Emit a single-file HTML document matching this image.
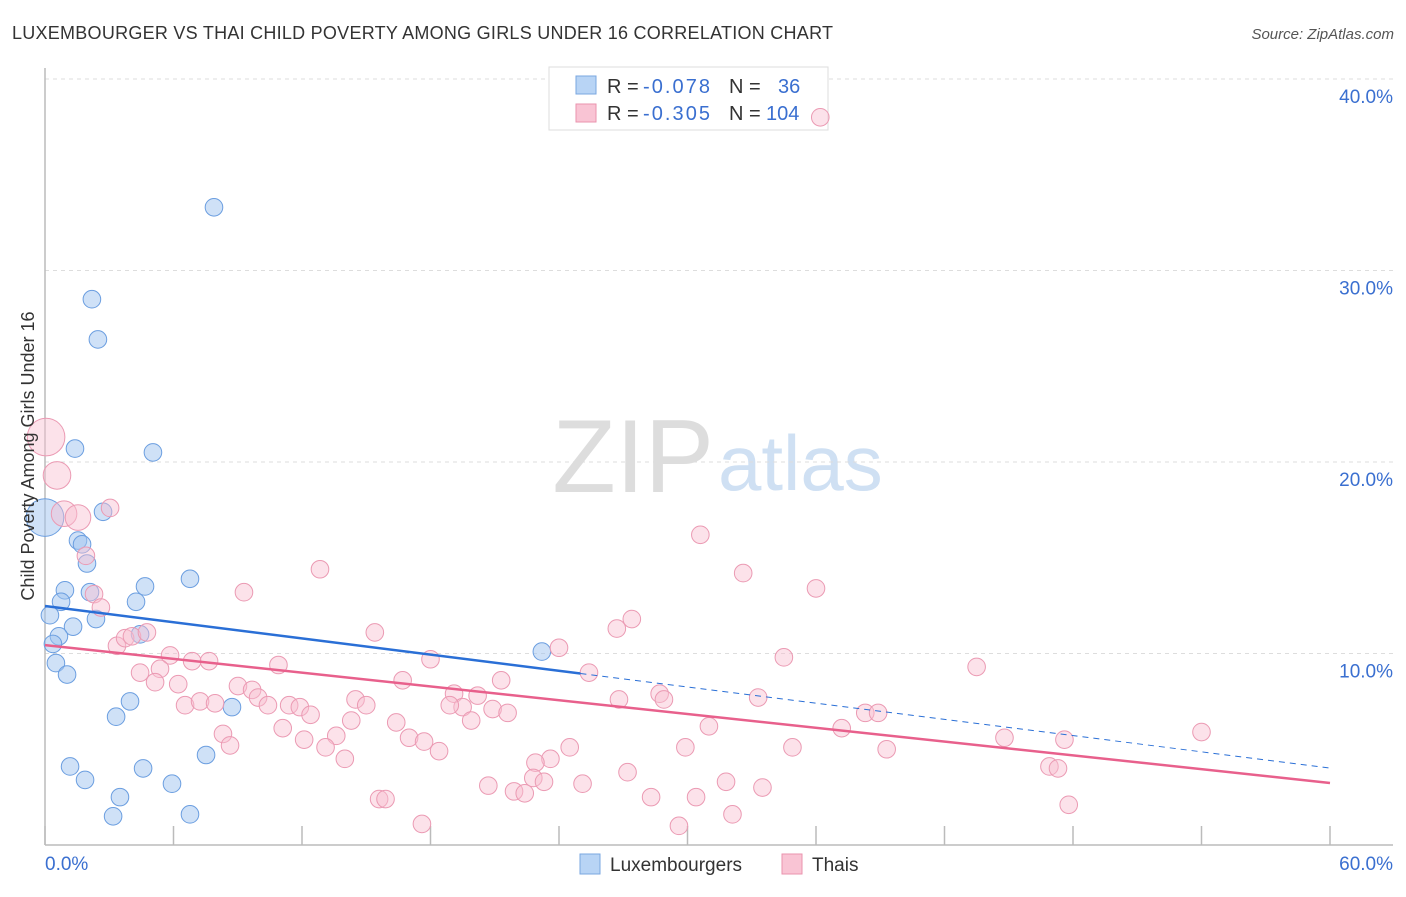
<!DOCTYPE html>
<html><head><meta charset="utf-8"><style>
body{margin:0;background:#fff;font-family:"Liberation Sans",sans-serif;}
svg text{font-family:"Liberation Sans",sans-serif;}
</style></head><body>
<svg id="chart" width="1406" height="892">
<text x="12" y="39" font-size="18" fill="#333" textLength="821">LUXEMBOURGER VS THAI CHILD POVERTY AMONG GIRLS UNDER 16 CORRELATION CHART</text>
<text x="1394" y="39" font-size="15" fill="#555" font-style="italic" text-anchor="end">Source: ZipAtlas.com</text>
<text x="714" y="492" font-size="104" font-family="Liberation Serif" fill="#ddd" text-anchor="end">ZIP</text>
<text x="718" y="490" font-size="78" fill="#cfe0f3">atlas</text>
<g id="grid"></g><g id="axes"></g>
<g>
<rect x="549" y="67" width="279" height="63" fill="#fff" stroke="#ddd"/>
<rect x="576" y="76" width="20" height="18" fill="#b8d4f5" stroke="#7aa7e0"/>
<rect x="576" y="104" width="20" height="18" fill="#f9c4d4" stroke="#ea93ae"/>
<text y="93" font-size="20" fill="#333"><tspan x="607">R =</tspan><tspan x="643" fill="#3a6fd0" textLength="67">-0.078</tspan><tspan x="729">N =</tspan><tspan x="778" fill="#3a6fd0">36</tspan></text>
<text y="120" font-size="20" fill="#333"><tspan x="607">R =</tspan><tspan x="643" fill="#3a6fd0" textLength="67">-0.305</tspan><tspan x="729">N =</tspan><tspan x="766" fill="#3a6fd0">104</tspan></text>
</g>
<g id="pts"></g><g id="lines"></g>
<text transform="translate(34,456) rotate(-90)" font-size="18" fill="#333" text-anchor="middle">Child Poverty Among Girls Under 16</text>
<g>
<rect x="580" y="854" width="20" height="20" fill="#b8d4f5" stroke="#7aa7e0"/>
<text x="610" y="871" font-size="19" fill="#333">Luxembourgers</text>
<rect x="782" y="854" width="20" height="20" fill="#f9c4d4" stroke="#ea93ae"/>
<text x="812" y="871" font-size="19" fill="#333">Thais</text>
</g>
</svg>
<script>
const yTicks=[10,20,30,40];
const xTickLabels=["0.0%","60.0%"];
const luxX=[7.89,2.19,2.47,1.40,5.04,0.0,2.71,1.54,1.73,1.96,6.77,0.93,4.67,2.10,0.75,4.25,2.38,0.23,1.31,0.65,4.44,0.37,0.51,1.03,23.2,3.97,3.32,8.73,7.52,1.17,1.87,4.58,5.93,3.50,3.18,6.77];
const luxY=[33.3,28.5,26.4,20.7,20.5,17.1,17.4,15.9,15.7,14.7,13.9,13.3,13.5,13.2,12.7,12.7,11.8,12.0,11.4,10.9,11.0,10.5,9.5,8.9,10.1,7.5,6.7,7.2,4.7,4.1,3.4,4.0,3.2,2.5,1.5,1.6];
const luxR=[8,8,8,8,8,18,8,8,8,8,8,8,8,8,8,8,8,8,8,8,8,8,8,8,8,8,8,8,8,8,8,8,8,8,8,8];
const thaiX=[36.2,0.05,0.56,0.89,1.54,3.04,1.91,2.29,2.61,12.84,9.29,30.6,32.6,36.0,27.4,26.7,15.4,24.0,3.36,3.74,4.06,4.76,5.84,6.87,7.66,5.37,4.44,5.14,6.22,10.9,18.0,25.4,34.5,43.5,9.01,9.67,9.95,6.54,7.24,7.94,10.41,11.4,11.9,12.4,14.5,15.0,16.7,19.1,20.2,19.5,18.9,21.3,20.9,21.6,19.9,14.3,16.4,26.8,28.7,28.9,33.3,38.3,38.9,31.0,37.2,8.31,8.64,11.1,12.1,13.6,13.1,14.0,17.0,17.7,18.4,24.5,23.6,22.9,29.9,34.9,39.3,44.8,47.6,54.0,46.9,47.3,47.8,27.2,22.8,23.3,20.7,25.1,31.8,21.9,22.4,28.3,30.4,33.5,15.6,15.9,32.1,29.6,17.6];
const thaiY=[38.0,21.3,19.3,17.3,17.1,17.6,15.1,13.1,12.4,14.4,13.2,16.2,14.2,13.4,11.8,11.3,11.1,10.3,10.4,10.8,10.9,11.1,9.9,9.6,9.6,9.2,9.0,8.5,8.4,9.4,9.7,9.0,9.8,9.3,8.3,8.1,7.7,7.3,7.5,7.4,7.3,7.3,7.2,6.8,7.6,7.3,8.6,7.9,7.8,7.2,7.3,8.6,7.1,6.9,6.5,6.5,6.4,7.6,7.9,7.6,7.7,6.9,6.9,6.2,6.1,5.8,5.2,6.1,5.5,5.7,5.1,4.5,5.6,5.4,4.9,5.1,4.5,4.3,5.1,5.1,5.0,5.6,5.5,5.9,4.1,4.0,2.1,3.8,3.5,3.3,3.1,3.2,3.3,2.8,2.7,2.5,2.5,3.0,2.4,2.4,1.6,1.0,1.1];
const thaiR=[8,18,13,12,12,8,8,8,8,8,8,8,8,8,8,8,8,8,8,8,8,8,8,8,8,8,8,8,8,8,8,8,8,8,8,8,8,8,8,8,8,8,8,8,8,8,8,8,8,8,8,8,8,8,8,8,8,8,8,8,8,8,8,8,8,8,8,8,8,8,8,8,8,8,8,8,8,8,8,8,8,8,8,8,8,8,8,8,8,8,8,8,8,8,8,8,8,8,8,8,8,8,8];
const luxFit=[12.48,4.02]; const luxSolidEnd=25;
const thaiFit=[10.44,3.24];
const NS="http://www.w3.org/2000/svg";
const X=v=>45+v/60*1285, Y=v=>845-v*19.15;
function mk(p,t,a){const e=document.createElementNS(NS,t);for(const k in a)e.setAttribute(k,a[k]);p.appendChild(e);return e;}
const grid=document.getElementById('grid'),axes=document.getElementById('axes'),pts=document.getElementById('pts'),lines=document.getElementById('lines');
yTicks.forEach(t=>{
 const l=mk(grid,'line',{x1:45,x2:1393,y1:Y(t),y2:Y(t),stroke:'#ddd','stroke-dasharray':'4,4'});
 
 
 const tx=mk(grid,'text',{x:1393,y:Y(t)+24,'font-size':19,fill:'#3a6fd0','text-anchor':'end'});tx.textContent=t.toFixed(1)+'%';
 
 
});
const ya=mk(axes,'line',{x1:45,x2:45,y1:68,y2:845,stroke:'#bbb','stroke-width':1.5});


const xa=mk(axes,'line',{x1:45,x2:1393,y1:845,y2:845,stroke:'#bbb','stroke-width':1.5});


for(let i=0;i<=10;i++){const t=mk(axes,'line',{x1:X(i*6),x2:X(i*6),y1:826,y2:845,stroke:'#bbb','stroke-width':1.5});
 
 }
[[0,'start',45],[1,'end',1393]].forEach(([i,a,x])=>{const t=mk(axes,'text',{x:x,y:870,'font-size':19,fill:'#3a6fd0','text-anchor':a});t.textContent=xTickLabels[i];
 
 });
luxX.forEach((v,i)=>{const c=mk(pts,'circle',{cx:X(v),cy:Y(luxY[i]),r:luxR[i]+0.8,fill:'rgba(160,195,240,0.5)',stroke:'#6b9ee0','stroke-width':1});
 
 });
thaiX.forEach((v,i)=>{const c=mk(pts,'circle',{cx:X(v),cy:Y(thaiY[i]),r:thaiR[i]+0.8,fill:'rgba(248,190,208,0.45)',stroke:'#eb9ab3','stroke-width':1});
 
 });
const lf=x=>luxFit[0]+(luxFit[1]-luxFit[0])*x/60, tf=x=>thaiFit[0]+(thaiFit[1]-thaiFit[0])*x/60;
const l1=mk(lines,'line',{x1:X(0),y1:Y(lf(0)),x2:X(luxSolidEnd),y2:Y(lf(luxSolidEnd)),stroke:'#2a6fd6','stroke-width':2.5});


const l2=mk(lines,'line',{x1:X(luxSolidEnd),y1:Y(lf(luxSolidEnd)),x2:X(60),y2:Y(lf(60)),stroke:'#2a6fd6','stroke-width':1,'stroke-dasharray':'6,5'});


const l3=mk(lines,'line',{x1:X(0),y1:Y(tf(0)),x2:X(60),y2:Y(tf(60)),stroke:'#e8608c','stroke-width':2.5});


</script>
</body></html>
